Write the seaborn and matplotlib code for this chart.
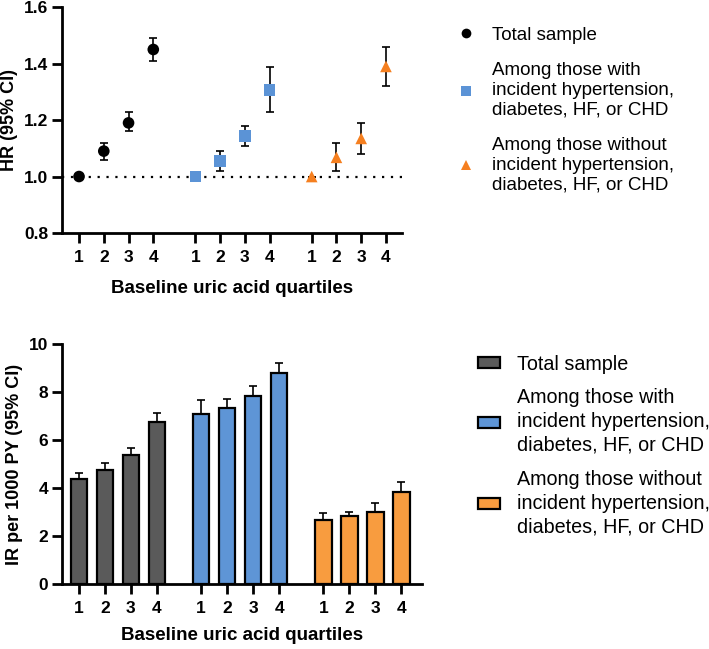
import numpy as np
import pandas as pd
import matplotlib
matplotlib.use("Agg")
import matplotlib.pyplot as plt
from matplotlib.lines import Line2D
from matplotlib.patches import Patch
import seaborn as sns

# groups and quartiles
groups = [
    "Total sample",
    "Among those with\nincident hypertension,\ndiabetes, HF, or CHD",
    "Among those without\nincident hypertension,\ndiabetes, HF, or CHD",
]
quartiles = [1, 2, 3, 4]

# hazard ratios (top panel)
hr_total = [1.00, 1.09, 1.19, 1.45]
hr_total_lo = [1.00, 1.06, 1.16, 1.41]
hr_total_hi = [1.00, 1.12, 1.23, 1.49]
hr_with = [1.00, 1.056, 1.143, 1.307]
hr_with_lo = [1.00, 1.021, 1.109, 1.227]
hr_with_hi = [1.00, 1.092, 1.178, 1.387]
hr_without = [1.00, 1.068, 1.135, 1.39]
hr_without_lo = [1.00, 1.02, 1.08, 1.32]
hr_without_hi = [1.00, 1.12, 1.188, 1.46]

# incidence rates per 1000 PY (bottom panel), upper CI only drawn
ir_total = [4.38, 4.78, 5.39, 6.75]
ir_total_hi = [4.65, 5.04, 5.67, 7.15]
ir_with = [7.10, 7.35, 7.85, 8.82]
ir_with_hi = [7.67, 7.73, 8.25, 9.22]
ir_without = [2.68, 2.85, 3.00, 3.83]
ir_without_hi = [2.96, 3.01, 3.40, 4.25]

marker_colors = ["black", "#5B93D6", "#F57F1F"]
bar_colors = ["#5A5A5A", "#5E95D6", "#F89C3F"]
markers = ["o", "s", "^"]
group_gap = 4.7

sns.set_style("ticks")
plt.rcParams["font.family"] = ["Liberation Sans", "DejaVu Sans"]
plt.rcParams["axes.linewidth"] = 2.0
plt.rcParams["text.color"] = "black"
plt.rcParams["axes.labelcolor"] = "black"
plt.rcParams["xtick.color"] = "black"
plt.rcParams["ytick.color"] = "black"
plt.rcParams["axes.edgecolor"] = "black"

# build long tables
rows_hr, rows_ir = [], []
hr_sets = [(hr_total, hr_total_lo, hr_total_hi),
           (hr_with, hr_with_lo, hr_with_hi),
           (hr_without, hr_without_lo, hr_without_hi)]
ir_sets = [(ir_total, ir_total_hi), (ir_with, ir_with_hi), (ir_without, ir_without_hi)]
for g, name in enumerate(groups):
    for i, q in enumerate(quartiles):
        pos = g * group_gap + i
        v, lo, hi = hr_sets[g][0][i], hr_sets[g][1][i], hr_sets[g][2][i]
        rows_hr.append({"pos": pos, "q": q, "group": name, "hr": v, "lo": lo, "hi": hi})
        rows_ir.append({"pos": pos, "q": q, "group": name,
                        "ir": ir_sets[g][0][i], "hi": ir_sets[g][1][i]})
df_hr = pd.DataFrame(rows_hr)
df_ir = pd.DataFrame(rows_ir)

fig = plt.figure(figsize=(7.09, 6.49), dpi=100)
ax1 = fig.add_axes([0.0874, 0.641, 0.480, 0.348])
ax2 = fig.add_axes([0.0874, 0.0997, 0.508, 0.370])

tick_font = {"fontsize": 12.5, "fontweight": "bold"}

# ---- top panel: HR points
ax1.axhline(1.0, color="black", ls=(0, (1, 3)), lw=1.6, zorder=1)
ax1.errorbar(df_hr["pos"], df_hr["hr"],
             yerr=[df_hr["hr"] - df_hr["lo"], df_hr["hi"] - df_hr["hr"]],
             fmt="none", ecolor="black", elinewidth=1.2, capsize=3, capthick=1.2, zorder=2)
sns.scatterplot(data=df_hr, x="pos", y="hr", hue="group", style="group",
                palette=marker_colors, markers=markers, s=70, linewidth=0,
                legend=False, ax=ax1, zorder=3)
ax1.set_ylim(0.8, 1.6)
ax1.set_yticks([0.8, 1.0, 1.2, 1.4, 1.6])
ax1.set_yticklabels(["0.8", "1.0", "1.2", "1.4", "1.6"], **tick_font)
ax1.set_xlim(-0.69, 13.06)
ax1.set_ylabel("HR (95% CI)", fontsize=13, fontweight="bold", labelpad=4)

# ---- bottom panel: IR bars
sns.barplot(data=df_ir, x="pos", y="ir", hue="group", palette=bar_colors,
            native_scale=True, dodge=False, width=0.63, errorbar=None, saturation=1,
            edgecolor="black", linewidth=1.6, legend=False, ax=ax2, zorder=2)
ax2.errorbar(df_ir["pos"], df_ir["ir"],
             yerr=[np.zeros(len(df_ir)), df_ir["hi"] - df_ir["ir"]],
             fmt="none", ecolor="black", elinewidth=1.2, capsize=3, capthick=1.2, zorder=1)
ax2.set_ylim(0, 10)
ax2.set_yticks([0, 2, 4, 6, 8, 10])
ax2.set_yticklabels(["0", "2", "4", "6", "8", "10"], **tick_font)
ax2.set_xlim(-0.65, 13.2)
ax2.set_ylabel("IR per 1000 PY (95% CI)", fontsize=13, fontweight="bold", labelpad=4)

for ax, lp in ((ax1, 11), (ax2, 8)):
    ax.set_xticks(df_hr["pos"])
    ax.set_xticklabels([str(q) for q in df_hr["q"]], **tick_font)
    ax.set_xlabel("Baseline uric acid quartiles", fontsize=13.5, fontweight="bold", labelpad=lp)
    ax.tick_params(axis="both", direction="out", length=7, width=2, pad=3,
                   bottom=True, left=True)
    ax.tick_params(axis="x", pad=5)
    sns.despine(ax=ax)
    ax.grid(False)

# legends
h1 = [Line2D([], [], ls="none", marker=m, color=c, markersize=7, markeredgewidth=0)
      for m, c in zip(markers, marker_colors)]
fig.legend(h1, groups, loc="upper left", bbox_to_anchor=(0.62, 0.985), frameon=False,
           fontsize=13.5, labelspacing=1.0, handlelength=1.0, handletextpad=0.9)

h2 = [Patch(facecolor=c, edgecolor="black", linewidth=1.6) for c in bar_colors]
leg2 = fig.legend(h2, groups, loc="upper left", bbox_to_anchor=(0.649, 0.481), frameon=False,
                  fontsize=14.2, labelspacing=0.75, handlelength=1.1, handleheight=0.5,
                  handletextpad=0.9)
for t in leg2.get_texts():
    t.set_linespacing(1.32)

fig.savefig("out.png", dpi=100)
